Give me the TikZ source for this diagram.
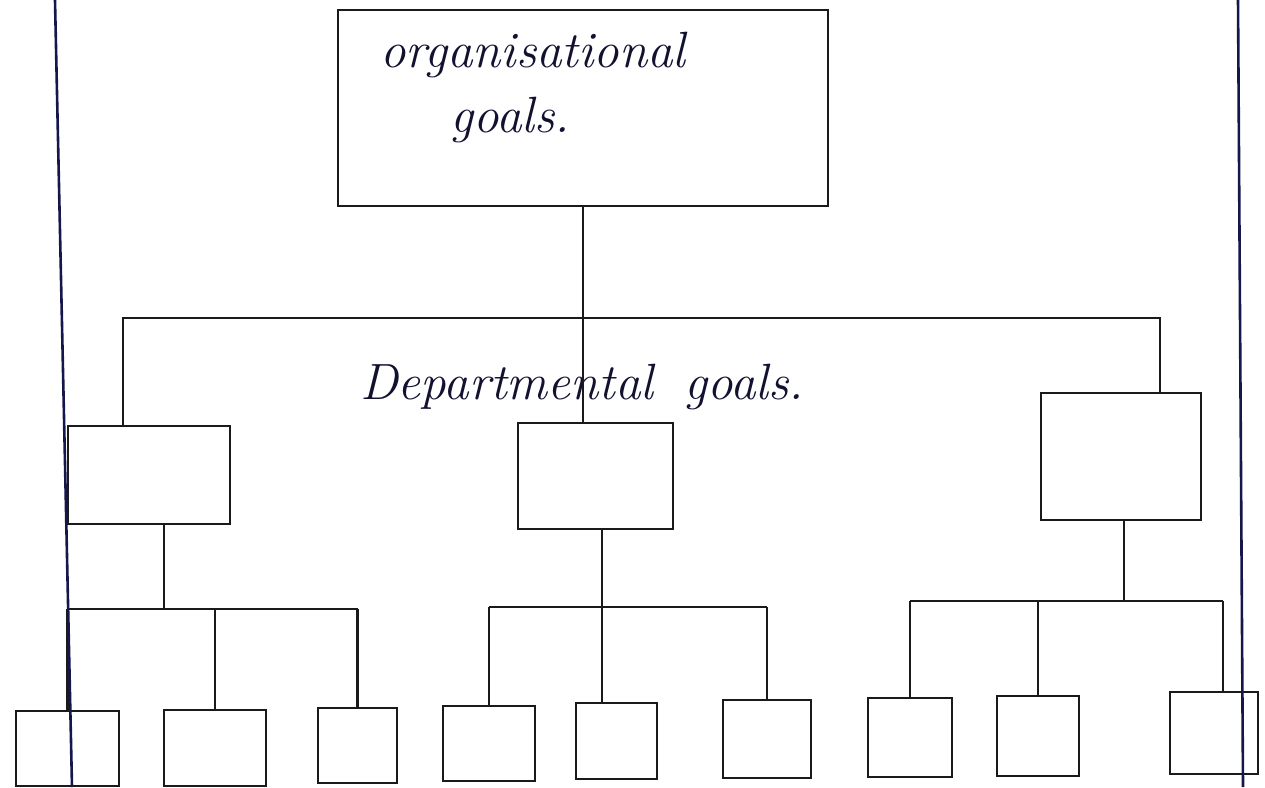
\documentclass[tikz,border=0pt]{standalone}
\usepackage{xcolor}
\definecolor{ink}{HTML}{1A1A1A}
\definecolor{pen}{HTML}{121230}
\definecolor{rule}{HTML}{16164A}
\tikzset{
  goalbox/.style={draw=ink, line width=2.2pt, inner sep=0pt, fill=none},
  link/.style={draw=ink, line width=2.2pt},
  marginrule/.style={draw=rule, line width=2.6pt},
  script/.style={text=pen, inner sep=0pt, anchor=base west,
    font=\fontsize{51}{61}\selectfont\itshape},
}
\begin{document}
\begin{tikzpicture}[x=1pt, y=-1pt]
  \useasboundingbox (0,0) rectangle (1265,787);

  % organisational goal
  \node[goalbox, minimum width=490pt, minimum height=196pt] (top) at (583,108) {};
  \node[script] (orgA) at (380,67) {organisational};
  \node[script] (orgB) at (450,132) {goals.};

  % departmental level
  \node[goalbox, minimum width=162pt, minimum height=98pt]  (DL) at (149,475) {};
  \node[goalbox, minimum width=155pt, minimum height=106pt] (DM) at (595.5,476) {};
  \node[goalbox, minimum width=160pt, minimum height=127pt] (DR) at (1121,456.5) {};
  \node[script] (dept) at (360,399) {Departmental\hspace{0.6em}goals.};

  % individual level
  \node[goalbox, minimum width=103pt, minimum height=75pt] (B1) at (67.5,748.5) {};
  \node[goalbox, minimum width=102pt, minimum height=76pt] (B2) at (215,748) {};
  \node[goalbox, minimum width=79pt,  minimum height=75pt] (B3) at (357.5,745.5) {};
  \node[goalbox, minimum width=92pt,  minimum height=75pt] (B4) at (489,743.5) {};
  \node[goalbox, minimum width=81pt,  minimum height=76pt] (B5) at (616.5,741) {};
  \node[goalbox, minimum width=88pt,  minimum height=78pt] (B6) at (767,739) {};
  \node[goalbox, minimum width=84pt,  minimum height=79pt] (B7) at (910,737.5) {};
  \node[goalbox, minimum width=82pt,  minimum height=80pt] (B8) at (1038,736) {};
  \node[goalbox, minimum width=88pt,  minimum height=82pt] (B9) at (1214,733) {};

  % junction points of the branches
  \coordinate (barL) at (123,318);
  \coordinate (barR) at (1160,318);
  \coordinate (jL) at (164,609);
  \coordinate (jM) at (602,607);
  \coordinate (jR) at (1124,601);
  \coordinate (rEnd) at (1223,601);

  % top to departments
  \draw[link] (top.south) -- (top.south |- DM.north);
  \draw[link] (DL.north -| barL) -- (barL) -- (barR) -- (barR |- DR.north);

  % left department
  \draw[link] (DL.south -| jL) -- (jL);
  \draw[link] (B1.north |- jL) -- (B3.north |- jL);
  \draw[link] (B1.north |- jL) -- (B1.north);
  \draw[link] (B2.north |- jL) -- (B2.north);
  \draw[link] (B3.north |- jL) -- (B3.north);

  % middle department
  \draw[link] (DM.south -| jM) -- (jM);
  \draw[link] (B4.north |- jM) -- (B6.north |- jM);
  \draw[link] (B4.north |- jM) -- (B4.north);
  \draw[link] (jM) -- (jM |- B5.north);
  \draw[link] (B6.north |- jM) -- (B6.north);

  % right department
  \draw[link] (DR.south -| jR) -- (jR);
  \draw[link] (B7.north |- jR) -- (rEnd);
  \draw[link] (B7.north |- jR) -- (B7.north);
  \draw[link] (B8.north |- jR) -- (B8.north);
  \draw[link] (rEnd) -- (rEnd |- B9.north);

  % page margin rules
  \coordinate (mL1) at (55,0);
  \coordinate (mL2) at (72,787);
  \coordinate (mR1) at (1238,0);
  \coordinate (mR2) at (1243,787);
  \draw[marginrule] (mL1) -- (mL2);
  \draw[marginrule] (mR1) -- (mR2);
\end{tikzpicture}
\end{document}
